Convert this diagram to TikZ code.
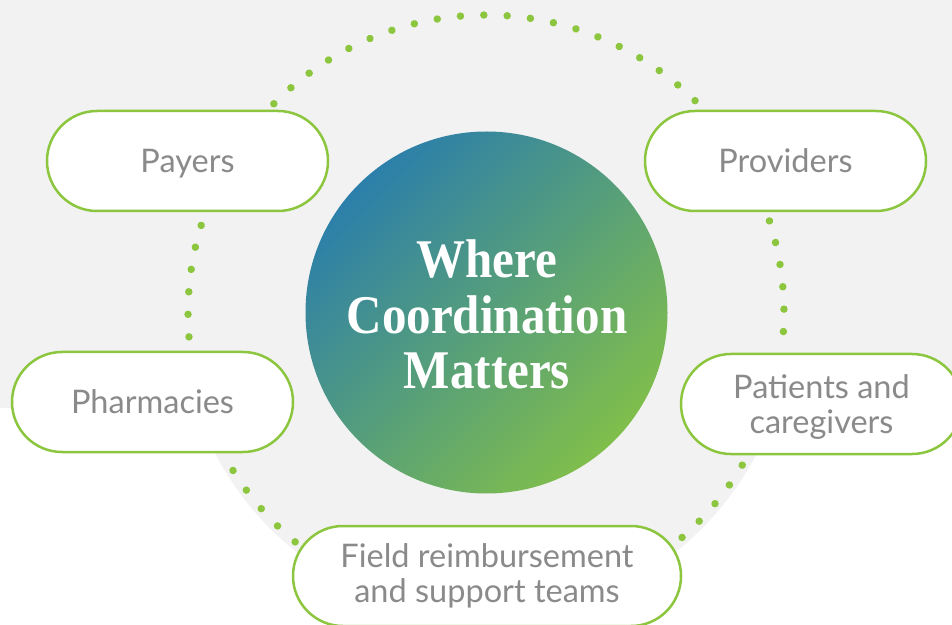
\documentclass[tikz,border=0pt]{standalone}
\usepackage{fontspec}
\setmainfont{Lato}
\newfontfamily\titlefont[FakeStretch=0.9]{Liberation Serif}
\definecolor{lgreen}{HTML}{8CC63F}
\definecolor{bggray}{HTML}{F2F2F2}
\definecolor{pilltext}{HTML}{8A8A8A}
\definecolor{cblue}{HTML}{2C7FAA}
\definecolor{cgreen}{HTML}{80BE4B}
\begin{document}
\begin{tikzpicture}[x=1pt,y=1pt,
  pill/.style={draw=lgreen, line width=2.5pt, fill=white, rounded corners=50pt,
    minimum height=100pt, inner sep=0pt, text=pilltext,
    font=\fontsize{32.5}{35}\selectfont, align=center},
  dotarc/.style={draw=lgreen, line width=7.5pt, line cap=round, dash pattern=on 0.01pt off #1}]
\useasboundingbox (0,0) rectangle (952,624);
\fill[white] (0,0) rectangle (952,624);
\fill[bggray] (0,216) rectangle (952,624);
\fill[bggray] (486,311) circle[radius=305];
\coordinate (C) at (486,311);
% dotted connectors on the ring
\coordinate (t1) at ([shift={(135.4:298)}]C);
\coordinate (l1) at ([shift={(162.9:298)}]C);
\coordinate (r1) at ([shift={(18:298)}]C);
\coordinate (bl1) at ([shift={(211.9:298)}]C);
\coordinate (br1) at ([shift={(-30.7:298)}]C);
\draw[dotarc=23.38] (t1) arc[start angle=135.4, end angle=45.3, radius=298];
\draw[dotarc=22.55] (l1) arc[start angle=162.9, end angle=184.6, radius=298];
\draw[dotarc=22.43] (r1) arc[start angle=18, end angle=-3.6, radius=298];
\draw[dotarc=23.75] (bl1) arc[start angle=211.9, end angle=230.2, radius=298];
\draw[dotarc=23.6] (br1) arc[start angle=-30.7, end angle=-48.9, radius=298];
% center circle
\shade[top color=cblue, bottom color=cgreen, shading angle=45] (486.5,311.5) circle[radius=181];
\node[text=white, align=center, font=\titlefont\bfseries\fontsize{54.5}{55.5}\selectfont] (title) at (487,309.5) {Where\\Coordination\\Matters};
% pills
\node[pill, minimum width=281pt, text depth=0pt] (payers) at (187.5,463) {Payers};
\node[pill, minimum width=281pt] (providers) at (785.5,463) {Providers};
\node[pill, minimum width=281pt] (pharm) at (152.5,222) {Pharmacies};
\node[pill, minimum width=281pt, text depth=0pt] (patients) at (821.5,220) {Patients and\\caregivers};
\node[pill, minimum width=388pt] (field) at (487,48) {Field reimbursement\\and support teams};
\end{tikzpicture}
\end{document}
